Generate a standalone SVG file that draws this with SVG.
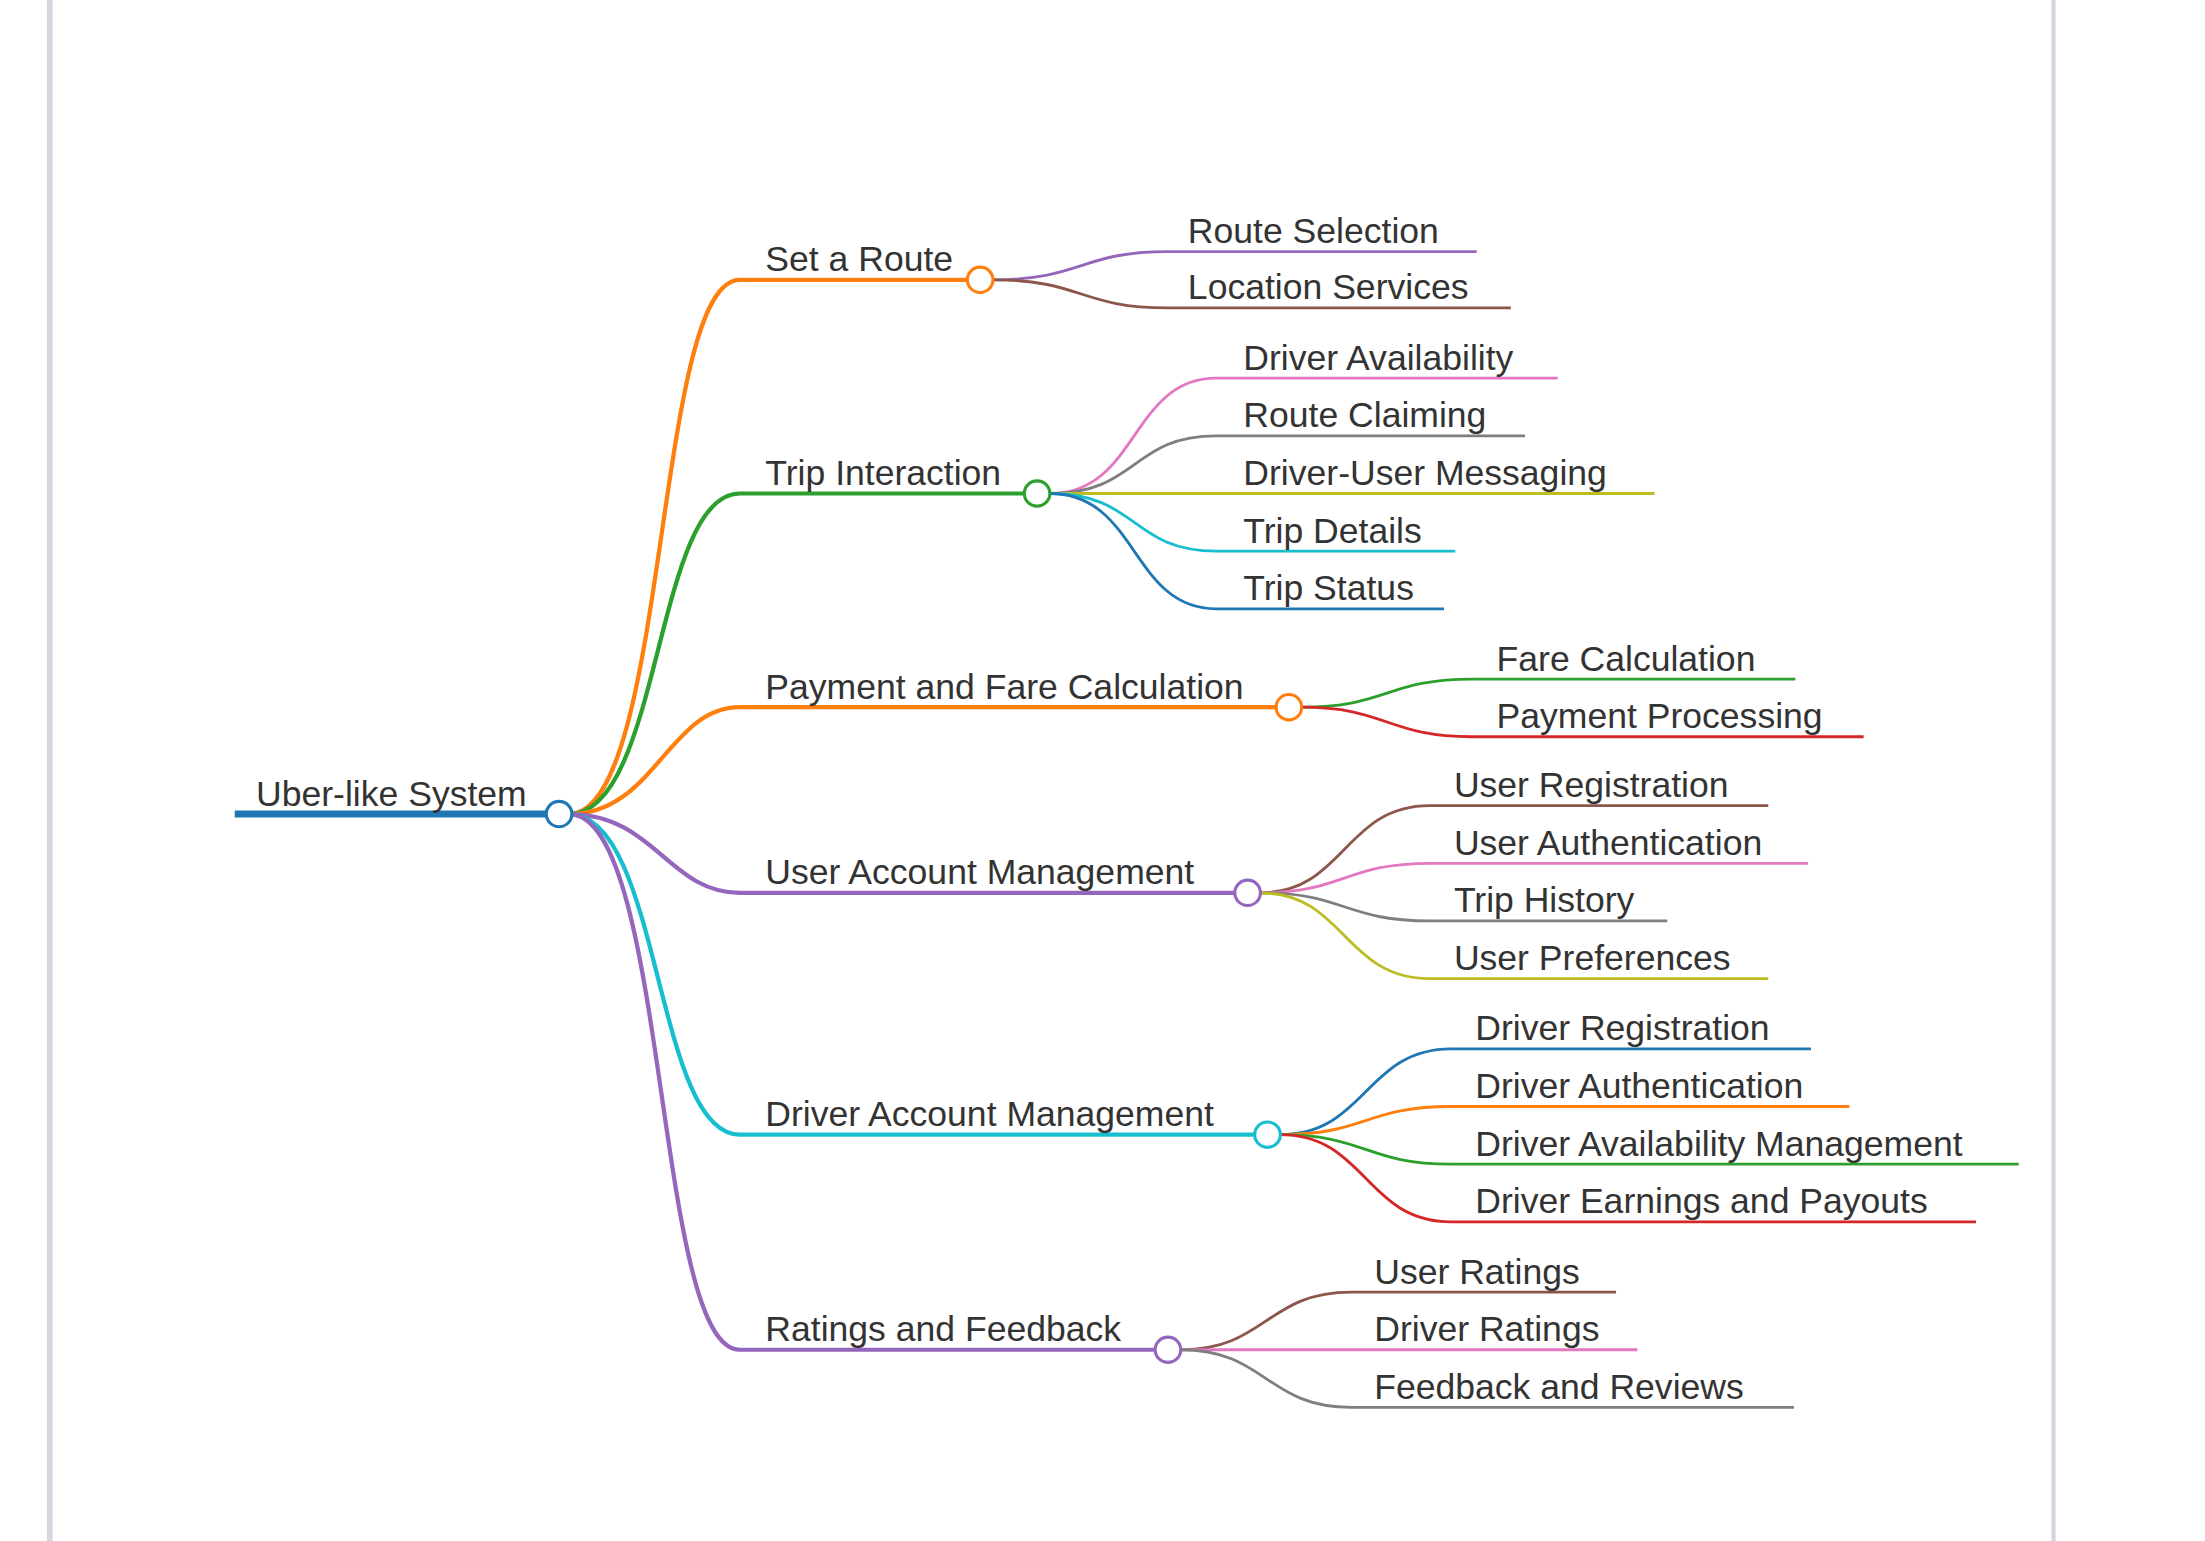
<svg xmlns="http://www.w3.org/2000/svg" width="2205" height="1541" viewBox="0 0 2205 1541">
<style>
text{font-family:"Liberation Sans",Arial,sans-serif;font-size:25px;fill:#333}
.l1{fill:none;stroke-width:3}
.l2{fill:none;stroke-width:2}
circle{fill:#fff;stroke-width:2.2}
</style>
<rect width="2205" height="1541" fill="#fff"/>
<g transform="scale(1.4226,1.406)">
<rect x="33" y="0" width="4" height="1100" fill="#d3d8df"/>
<rect x="1442" y="0" width="3" height="1100" fill="#d3d8df"/>
<g id="connectors">
<path d="M165 579H393" stroke="#1f77b4" stroke-width="5" fill="none"/>
<path class="l1" stroke="#ff7f0e" d="M400 579C470 579 460 199 520 199H689"/>
<path class="l1" stroke="#2ca02c" d="M400 579C465 579 460 351 520 351H729"/>
<path class="l1" stroke="#ff7f0e" d="M400 579C460 579 470 503 520 503H906"/>
<path class="l1" stroke="#9467bd" d="M400 579C460 579 470 635 520 635H877"/>
<path class="l1" stroke="#17becf" d="M400 579C465 579 460 807 520 807H891"/>
<path class="l1" stroke="#9467bd" d="M400 579C470 579 460 960 520 960H821"/>
<path class="l2" stroke="#9467bd" d="M698 199C760 199 760 179 820 179H1038"/>
<path class="l2" stroke="#8c564b" d="M698 199C760 199 760 219 820 219H1062"/>
<path class="l2" stroke="#e377c2" d="M738 351C800 351 795 269 855 269H1095"/>
<path class="l2" stroke="#7f7f7f" d="M738 351C800 351 795 310 855 310H1072"/>
<path class="l2" stroke="#bcbd22" d="M738 351H1163"/>
<path class="l2" stroke="#17becf" d="M738 351C800 351 795 392 855 392H1023"/>
<path class="l2" stroke="#1f77b4" d="M738 351C800 351 795 433 855 433H1015"/>
<path class="l2" stroke="#2ca02c" d="M915 503C975 503 975 483 1035 483H1262"/>
<path class="l2" stroke="#d62728" d="M915 503C975 503 975 524 1035 524H1310"/>
<path class="l2" stroke="#8c564b" d="M886 635C945 635 945 573 1005 573H1243"/>
<path class="l2" stroke="#e377c2" d="M886 635C945 635 945 614 1005 614H1271"/>
<path class="l2" stroke="#7f7f7f" d="M886 635C945 635 945 655 1005 655H1172"/>
<path class="l2" stroke="#bcbd22" d="M886 635C945 635 945 696 1005 696H1243"/>
<path class="l2" stroke="#1f77b4" d="M900 807C960 807 960 746 1020 746H1273"/>
<path class="l2" stroke="#ff7f0e" d="M900 807C960 807 960 787 1020 787H1300"/>
<path class="l2" stroke="#2ca02c" d="M900 807C960 807 960 828 1020 828H1419"/>
<path class="l2" stroke="#d62728" d="M900 807C960 807 960 869 1020 869H1389"/>
<path class="l2" stroke="#8c564b" d="M830 960C890 960 890 919 950 919H1136"/>
<path class="l2" stroke="#e377c2" d="M830 960H1151"/>
<path class="l2" stroke="#7f7f7f" d="M830 960C890 960 890 1001 950 1001H1261"/>
</g>
<g id="root"><circle cx="393" cy="579" r="9" stroke="#1f77b4"/><text x="180" y="573">Uber-like System</text></g>
<g id="n1"><circle cx="689" cy="199" r="9" stroke="#ff7f0e"/><text x="538" y="193">Set a Route</text></g>
<g id="n2"><circle cx="729" cy="351" r="9" stroke="#2ca02c"/><text x="538" y="345">Trip Interaction</text></g>
<g id="n3"><circle cx="906" cy="503" r="9" stroke="#ff7f0e"/><text x="538" y="497">Payment and Fare Calculation</text></g>
<g id="n4"><circle cx="877" cy="635" r="9" stroke="#9467bd"/><text x="538" y="629">User Account Management</text></g>
<g id="n5"><circle cx="891" cy="807" r="9" stroke="#17becf"/><text x="538" y="801">Driver Account Management</text></g>
<g id="n6"><circle cx="821" cy="960" r="9" stroke="#9467bd"/><text x="538" y="954">Ratings and Feedback</text></g>
<g id="leaves">
<text x="835" y="173">Route Selection</text>
<text x="835" y="213">Location Services</text>
<text x="874" y="263">Driver Availability</text>
<text x="874" y="304">Route Claiming</text>
<text x="874" y="345">Driver-User Messaging</text>
<text x="874" y="386">Trip Details</text>
<text x="874" y="427">Trip Status</text>
<text x="1052" y="477">Fare Calculation</text>
<text x="1052" y="518">Payment Processing</text>
<text x="1022" y="567">User Registration</text>
<text x="1022" y="608">User Authentication</text>
<text x="1022" y="649">Trip History</text>
<text x="1022" y="690">User Preferences</text>
<text x="1037" y="740">Driver Registration</text>
<text x="1037" y="781">Driver Authentication</text>
<text x="1037" y="822">Driver Availability Management</text>
<text x="1037" y="863">Driver Earnings and Payouts</text>
<text x="966" y="913">User Ratings</text>
<text x="966" y="954">Driver Ratings</text>
<text x="966" y="995">Feedback and Reviews</text>
</g>
</g>
</svg>
